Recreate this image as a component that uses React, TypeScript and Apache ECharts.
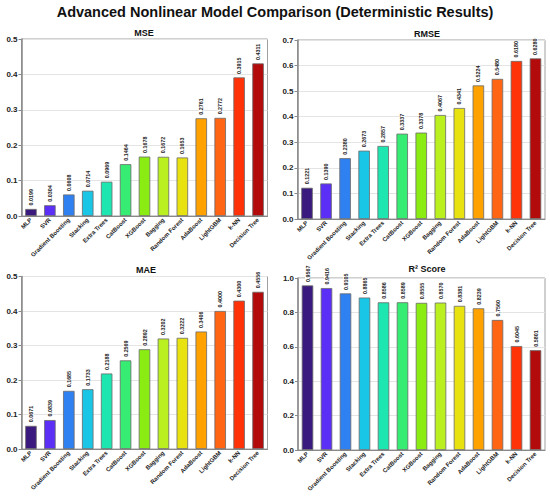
import React, { useEffect, useRef } from "react";
import * as echarts from "echarts";

const categories = [
  "MLP", "SVR", "Gradient Boosting", "Stacking", "Extra Trees", "CatBoost",
  "XGBoost", "Bagging", "Random Forest", "AdaBoost", "LightGBM", "k-NN", "Decision Tree",
];
const mseValues = [0.0199, 0.0304, 0.0608, 0.0714, 0.0969, 0.1464, 0.1678, 0.1672, 0.1653, 0.2761, 0.2772, 0.3915, 0.4311];
const rmseValues = [0.1221, 0.139, 0.238, 0.2673, 0.2857, 0.3337, 0.3378, 0.4067, 0.4341, 0.5224, 0.548, 0.618, 0.628];
const maeValues = [0.0671, 0.0839, 0.1685, 0.1733, 0.2188, 0.2569, 0.2892, 0.3202, 0.3222, 0.3406, 0.4, 0.43, 0.4556];
const r2Values = [0.9567, 0.9416, 0.9105, 0.8865, 0.8586, 0.8589, 0.8555, 0.857, 0.8381, 0.8239, 0.756, 0.6045, 0.5801];
const barColors = [
  "#3a1a7e", "#5b2ff5", "#2f80f0", "#19c6e6", "#1de6b1", "#36ec72", "#8aec12",
  "#bbf020", "#e9e211", "#ffa200", "#ff6512", "#ff3208", "#b30b0b",
];
const panelTitles = ["MSE", "RMSE", "MAE", "R² Score"];
const yMax = [0.5, 0.7, 0.5, 1.0];
const yStep = [0.1, 0.1, 0.1, 0.2];
const mainTitle = "Advanced Nonlinear Model Comparison (Deterministic Results)";

const FONT = '"Liberation Sans", Arial, sans-serif';

const grids = [
  { left: 21.5, top: 39, width: 246, height: 177 },
  { left: 297.5, top: 40, width: 247.5, height: 179 },
  { left: 21.5, top: 276.5, width: 246, height: 172.5 },
  { left: 298, top: 278, width: 247, height: 172 },
];
const titlePos = [
  { x: 142, y: 28 },
  { x: 425, y: 29.5 },
  { x: 144, y: 265.5 },
  { x: 425, y: 264.5 },
];

export default function App() {
  const ref = useRef<HTMLDivElement>(null);
  useEffect(() => {
    if (!ref.current) return;
    const chart = echarts.init(ref.current, null, { renderer: "svg" });
    const series = [mseValues, rmseValues, maeValues, r2Values];
    const option: any = {
      animation: false,
      backgroundColor: "#ffffff",
      title: [
        {
          text: mainTitle,
          left: 275,
          textAlign: "center",
          top: 4,
          padding: 0,
          textStyle: { fontFamily: FONT, fontSize: 14.5, fontWeight: "bold", color: "#111" },
        },
        ...panelTitles.map((t, i) => ({
          text: t,
          left: titlePos[i].x,
          top: titlePos[i].y,
          textAlign: "center",
          padding: [0, 2],
          backgroundColor: "#ffffff",
          textStyle: { fontFamily: FONT, fontSize: 9, fontWeight: "bold", color: "#111" },
        })),
      ],
      grid: grids.map((g) => ({ ...g, show: true, borderColor: "#a0a0a0", borderWidth: 1, containLabel: false })),
      xAxis: grids.map((_, i) => ({
        type: "category",
        gridIndex: i,
        data: categories,
        axisLine: { lineStyle: { color: "#888", width: 1.2 } },
        axisTick: { show: false },
        axisLabel: {
          interval: 0,
          rotate: 45,
          margin: 3,
          fontFamily: FONT,
          fontSize: 6,
          fontWeight: "bold",
          color: "#222",
        },
      })),
      yAxis: grids.map((_, i) => ({
        type: "value",
        gridIndex: i,
        min: 0,
        max: yMax[i],
        interval: yStep[i],
        axisLine: { show: true, lineStyle: { color: "#888", width: 1.5 } },
        axisTick: { show: true, length: 3, lineStyle: { color: "#888" } },
        splitLine: { lineStyle: { color: "#e4e4e4", width: 1 } },
        axisLabel: {
          margin: 4,
          fontFamily: FONT,
          fontSize: 8,
          fontWeight: "bold",
          color: "#222",
          formatter: (v: number) => v.toFixed(1),
        },
      })),
      series: series.map((vals, i) => ({
        type: "bar",
        xAxisIndex: i,
        yAxisIndex: i,
        barWidth: 11.5,
        data: vals.map((v, j) => ({
          value: v,
          itemStyle: { color: barColors[j], borderColor: "#6a6a6a", borderWidth: 0.8 },
        })),
        label: {
          show: true,
          position: "top",
          rotate: 90,
          align: "left",
          verticalAlign: "middle",
          distance: 3.5,
          fontFamily: FONT,
          fontSize: 5.4,
          fontWeight: "bold",
          color: "#222",
          backgroundColor: "#ffffff",
          padding: [0, 0],
          formatter: (p: any) => Number(p.value).toFixed(4),
        },
      })),
    };
    chart.setOption(option);
    return () => chart.dispose();
  }, []);
  return (
    <div
      ref={ref}
      style={{ position: "fixed", left: 0, top: 0, width: 550, height: 496, background: "#fff" }}
    />
  );
}
